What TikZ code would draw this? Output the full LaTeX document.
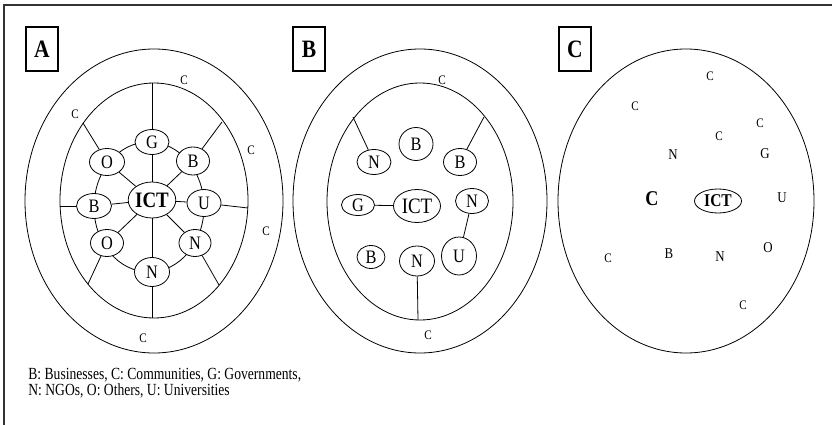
\documentclass[tikz,border=0pt]{standalone}
\usepackage{fontspec}
\setmainfont[FakeStretch=0.86]{Liberation Serif}
\newfontfamily\legendfont[FakeStretch=0.8]{Liberation Serif}
\usetikzlibrary{shapes.geometric}
\begin{document}
\begin{tikzpicture}[x=1pt,y=-1pt,line width=0.8pt,
  nd/.style={ellipse, draw, fill=white, inner sep=0pt, font=\fontsize{19}{19}\selectfont},
  ictnd/.style={nd, font=\fontsize{22}{22}\selectfont},
  lbl/.style={draw, line width=1.8pt, minimum width=32pt, minimum height=44pt, inner sep=0pt, font=\fontsize{25}{25}\selectfont\bfseries},
  cc/.style={inner sep=0pt, font=\fontsize{13}{13}\selectfont},
  sm/.style={inner sep=0pt, font=\fontsize{15}{15}\selectfont},
  legend/.style={inner sep=0pt, anchor=base west, font=\legendfont\fontsize{17}{15}\selectfont},
  frame/.style={line width=2pt, draw=black!80}]
\useasboundingbox (0,0) rectangle (832,425);
% frame
\coordinate (fTL) at (4,5);
\coordinate (fTR) at (832,5);
\coordinate (fBL) at (4,425);
\draw[frame] (fBL) -- (fTL) -- (fTR);

% ---------------- Panel A ----------------
\node[lbl] (boxA) at (42,49) {A};
\draw (154,201) ellipse [x radius=129pt, y radius=152pt];
\draw (154,200.5) ellipse [x radius=94pt, y radius=117.5pt];
\draw (149,207) ellipse [x radius=55pt, y radius=65pt];
\node[ictnd, minimum width=45pt, minimum height=36pt] (ictA) at (152,200) {\textbf{ICT}};
\node[nd, minimum width=34pt, minimum height=25pt] (gA) at (152,142) {G};
\node[nd, minimum width=35pt, minimum height=27pt] (oA1) at (107,162) {O};
\node[nd, minimum width=33pt, minimum height=28pt] (bA1) at (193,161) {B};
\node[nd, minimum width=35pt, minimum height=25pt] (bA2) at (94,206) {B};
\node[nd, minimum width=34pt, minimum height=27pt] (uA) at (204,203) {U};
\node[nd, minimum width=33pt, minimum height=27pt] (oA2) at (107,243) {O};
\node[nd, minimum width=35pt, minimum height=29pt] (nA1) at (152,272) {N};
\node[nd, minimum width=32pt, minimum height=27pt] (nA2) at (195,243) {N};
\foreach \n in {gA,oA1,bA1,bA2,uA,oA2,nA1,nA2} \draw (ictA) -- (\n);
\coordinate (eA1) at (152,83);
\coordinate (eA2) at (222,122);
\coordinate (eA3) at (248,208);
\coordinate (eA4) at (219,285);
\coordinate (eA5) at (152,318);
\coordinate (eA6) at (88,284);
\coordinate (eA7) at (60,206);
\coordinate (eA8) at (83,123);
\draw (gA) -- (eA1);
\draw (bA1) -- (eA2);
\draw (uA) -- (eA3);
\draw (nA2) -- (eA4);
\draw (nA1) -- (eA5);
\draw (oA2) -- (eA6);
\draw (bA2) -- (eA7);
\draw (oA1) -- (eA8);
\node[cc] (cA1) at (184,80) {C};
\node[cc] (cA2) at (75,114) {C};
\node[cc] (cA3) at (251,150) {C};
\node[cc] (cA4) at (266,231) {C};
\node[cc] (cA5) at (143,338) {C};

% ---------------- Panel B ----------------
\node[lbl] (boxB) at (309,49) {B};
\draw (420,201) ellipse [x radius=127pt, y radius=152pt];
\draw (420,201.5) ellipse [x radius=93pt, y radius=118.5pt];
\node[nd, minimum width=34pt, minimum height=25pt] (nB1) at (374,162) {N};
\node[nd, minimum width=34pt, minimum height=33pt] (bB1) at (416,144) {B};
\node[nd, minimum width=33pt, minimum height=27pt] (bB2) at (460,162) {B};
\node[nd, minimum width=33pt, minimum height=21pt] (gB) at (358,205) {G};
\node[ictnd, minimum width=47pt, minimum height=33pt] (ictB) at (417,206) {ICT};
\node[nd, minimum width=33pt, minimum height=25pt] (nB2) at (472,201) {N};
\node[nd, minimum width=28pt, minimum height=23pt] (bB3) at (371,257) {B};
\node[nd, minimum width=35pt, minimum height=30pt] (nB3) at (417,261) {N};
\node[nd, minimum width=35pt, minimum height=38pt] (uB) at (459,256) {U};
\coordinate (eB1) at (353,117);
\coordinate (eB2) at (484,117);
\coordinate (eB3) at (418,320);
\draw (nB1) -- (eB1);
\draw (bB2) -- (eB2);
\draw (gB) -- (ictB);
\draw (nB2) -- (uB);
\draw (nB3) -- (eB3);
\node[cc] (cB1) at (442,80) {C};
\node[cc] (cB2) at (428,335) {C};

% ---------------- Panel C ----------------
\node[lbl] (boxC) at (575,49) {C};
\draw (686,201) ellipse [x radius=128pt, y radius=152pt];
\node[nd, minimum width=47pt, minimum height=24pt, font=\fontsize{18}{18}\selectfont\bfseries] (ictC) at (718,201) {ICT};
\node[inner sep=0pt, font=\fontsize{21}{21}\selectfont\bfseries] (bigC) at (652,199) {C};
\node[cc] (cC1) at (710,76) {C};
\node[cc] (cC2) at (635,106) {C};
\node[cc] (cC3) at (760,123) {C};
\node[cc] (cC4) at (719,136) {C};
\node[cc] (cC5) at (608,258) {C};
\node[cc] (cC6) at (743,305) {C};
\node[sm] (nC1) at (673,155) {N};
\node[sm] (gC) at (765,154) {G};
\node[sm] (uC) at (782,198) {U};
\node[sm] (bC) at (669,254) {B};
\node[sm] (nC2) at (720,257) {N};
\node[sm] (oC) at (768,248) {O};

% legend
\node[legend] (leg) at (28,379) {\begin{tabular}[t]{@{}l@{}}B: Businesses, C: Communities, G: Governments,\\ N: NGOs, O: Others, U: Universities\end{tabular}};
\end{tikzpicture}
\end{document}
